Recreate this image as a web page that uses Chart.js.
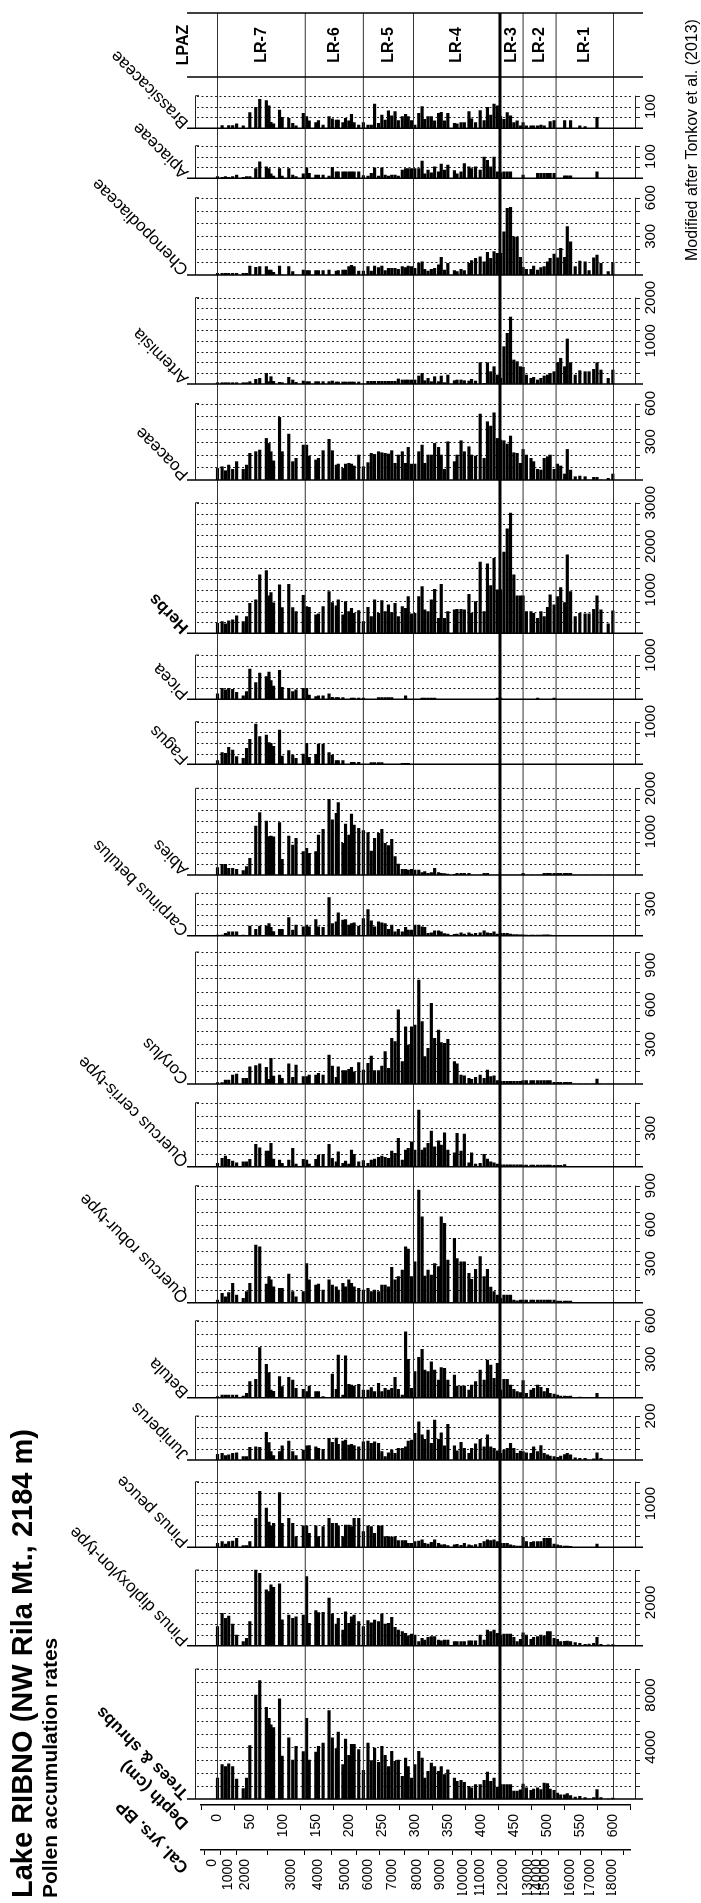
<!DOCTYPE html>
<html>
<head>
<meta charset="utf-8">
<title>Lake RIBNO pollen accumulation rates</title>
<script src="https://cdn.jsdelivr.net/npm/chart.js@4.4.0/dist/chart.umd.min.js"></script>
<style>
  body { margin: 0; background: #fff; }
  canvas { display: block; }
</style>
</head>
<body>
<canvas id="pollenChart" width="701" height="1903"></canvas>
<script>
// sample depths (cm)
const depths = [
  0, 7, 12, 17, 23, 29, 39, 44, 49, 58,
  64, 74, 78, 81, 85, 94, 98, 108, 114, 119,
  130, 135, 139, 149, 153, 160, 169, 174, 180, 183,
  190, 194, 199, 203, 207, 214, 221, 228, 233, 238,
  244, 249, 254, 259, 264, 269, 274, 280, 285, 289,
  294, 299, 305, 310, 314, 319, 324, 329, 335, 339,
  344, 349, 359, 363, 369, 374, 381, 385, 391, 398,
  404, 409, 414, 419, 424, 429, 434, 439, 444, 449,
  454, 459, 463, 468, 475, 479, 485, 490, 495, 500,
  504, 510, 515, 520, 526, 530, 535, 542, 549, 557,
  563, 570, 575, 581, 592, 599
];

// pollen accumulation rates, one array per taxon, same order as depths
const brassicaceae = [
  0, 12, 0, 12, 12, 20, 11, 0, 72, 97,
  133, 127, 103, 28, 20, 84, 51, 46, 23, 11,
  69, 54, 34, 26, 35, 15, 54, 43, 38, 38,
  26, 46, 34, 64, 26, 15, 26, 15, 15, 112,
  23, 61, 38, 80, 57, 77, 35, 54, 64, 54,
  35, 15, 69, 100, 41, 54, 54, 34, 69, 74,
  34, 69, 23, 20, 26, 26, 77, 43, 26, 81,
  35, 97, 61, 112, 103, 54, 41, 72, 57, 26,
  34, 11, 26, 11, 11, 11, 11, 15, 11, 0,
  31, 35, 0, 0, 35, 0, 35, 0, 11, 8,
  0, 0, 51, 0, 0, 0
];
const apiaceae = [
  8, 5, 8, 5, 8, 15, 5, 8, 8, 45,
  76, 53, 45, 20, 10, 45, 10, 45, 15, 8,
  20, 48, 23, 15, 15, 15, 10, 50, 30, 30,
  30, 30, 30, 30, 30, 30, 12, 10, 23, 48,
  10, 48, 15, 10, 15, 15, 10, 38, 45, 45,
  45, 45, 45, 79, 20, 38, 25, 53, 30, 65,
  38, 61, 35, 20, 30, 68, 53, 45, 53, 38,
  98, 83, 53, 98, 30, 26, 30, 30, 30, 0,
  0, 0, 15, 0, 0, 0, 23, 23, 23, 23,
  23, 23, 0, 0, 11, 11, 11, 0, 0, 0,
  0, 0, 30, 0, 0, 0
];
const chenopodiaceae = [
  13, 13, 13, 13, 13, 13, 13, 13, 70, 59,
  65, 65, 39, 39, 20, 70, 0, 65, 26, 0,
  39, 34, 34, 34, 34, 34, 39, 0, 31, 34,
  39, 39, 65, 75, 65, 30, 30, 65, 30, 70,
  57, 70, 34, 52, 52, 52, 44, 65, 57, 70,
  65, 52, 90, 103, 44, 30, 44, 52, 78, 137,
  39, 90, 34, 26, 44, 34, 90, 111, 129, 142,
  103, 176, 129, 181, 168, 168, 336, 517, 525, 297,
  292, 137, 59, 44, 44, 70, 39, 57, 65, 103,
  129, 163, 134, 207, 137, 375, 258, 65, 109, 103,
  34, 134, 155, 90, 26, 96
];
const artemisia = [
  30, 30, 30, 30, 30, 30, 30, 30, 54, 108,
  131, 247, 54, 170, 60, 39, 31, 154, 93, 39,
  69, 54, 54, 54, 54, 54, 54, 69, 46, 46,
  46, 46, 46, 46, 46, 46, 0, 62, 62, 62,
  62, 62, 62, 62, 62, 62, 116, 93, 93, 93,
  93, 93, 185, 247, 77, 131, 54, 170, 54, 185,
  31, 208, 77, 93, 93, 77, 69, 108, 69, 494,
  15, 494, 285, 401, 208, 131, 864, 1173, 1550, 556,
  517, 401, 386, 208, 131, 154, 93, 131, 185, 208,
  247, 285, 494, 594, 401, 1042, 494, 208, 309, 285,
  285, 340, 494, 324, 131, 324
];
const poaceae = [
  91, 104, 73, 117, 84, 144, 84, 117, 209, 222,
  235, 326, 287, 222, 150, 491, 222, 360, 144, 170,
  274, 274, 188, 157, 170, 230, 319, 230, 117, 125,
  91, 125, 131, 125, 110, 196, 104, 136, 209, 201,
  222, 214, 209, 204, 230, 131, 196, 222, 131, 256,
  125, 125, 222, 274, 131, 196, 196, 287, 256, 196,
  84, 300, 144, 196, 308, 222, 261, 196, 188, 517,
  170, 457, 423, 527, 326, 313, 308, 282, 345, 214,
  209, 131, 240, 196, 170, 144, 84, 78, 170, 183,
  196, 84, 125, 110, 47, 240, 78, 26, 31, 26,
  0, 21, 21, 0, 13, 47
];
const herbs = [
  230, 268, 215, 284, 307, 399, 268, 383, 690, 767,
  1342, 1442, 859, 935, 700, 1112, 590, 1127, 590, 498,
  874, 613, 598, 422, 445, 613, 958, 705, 629, 767,
  422, 728, 498, 575, 460, 521, 268, 598, 383, 767,
  460, 751, 498, 652, 475, 690, 383, 613, 575, 844,
  445, 460, 844, 1074, 537, 498, 767, 1012, 345, 1127,
  345, 498, 537, 552, 552, 537, 897, 460, 728, 1634,
  498, 1595, 1097, 1725, 997, 997, 1864, 2400, 2761, 1342,
  859, 859, 859, 498, 498, 460, 345, 498, 383, 598,
  882, 652, 844, 1051, 705, 1802, 958, 383, 460, 445,
  445, 552, 859, 537, 215, 514
];
const picea = [
  121, 250, 212, 250, 227, 159, 76, 174, 682, 379,
  591, 515, 614, 424, 300, 652, 273, 250, 174, 212,
  250, 250, 98, 61, 76, 76, 121, 45, 38, 38,
  38, 0, 0, 30, 30, 30, 30, 0, 0, 0,
  38, 38, 38, 38, 38, 0, 0, 0, 76, 0,
  0, 0, 0, 30, 30, 30, 30, 30, 0, 0,
  0, 0, 0, 0, 0, 0, 0, 0, 0, 0,
  0, 0, 0, 0, 30, 30, 0, 0, 0, 0,
  0, 0, 0, 0, 0, 0, 30, 0, 0, 0,
  0, 30, 0, 0, 0, 0, 0, 0, 0, 0,
  0, 0, 0, 0, 0, 0
];
const fagus = [
  86, 273, 258, 398, 336, 180, 140, 375, 585, 945,
  648, 688, 508, 492, 420, 805, 195, 320, 219, 140,
  242, 492, 164, 234, 477, 477, 273, 219, 86, 86,
  86, 0, 0, 47, 47, 47, 0, 0, 40, 40,
  40, 40, 0, 0, 0, 0, 0, 23, 23, 23,
  0, 0, 0, 0, 0, 0, 0, 0, 0, 0,
  0, 0, 0, 0, 0, 0, 0, 0, 0, 0,
  0, 0, 0, 0, 0, 0, 0, 0, 0, 0,
  0, 0, 0, 0, 0, 0, 0, 0, 0, 0,
  0, 0, 0, 0, 0, 0, 0, 0, 0, 0,
  0, 0, 0, 0, 0, 0
];
const abies = [
  170, 246, 246, 154, 154, 130, 100, 192, 385, 1130,
  1440, 1246, 885, 900, 880, 1208, 362, 900, 692, 846,
  538, 615, 500, 538, 923, 1054, 1746, 1270, 1423, 1670,
  730, 1177, 923, 1408, 1154, 1077, 1023, 977, 554, 846,
  962, 1054, 730, 677, 823, 423, 254, 130, 130, 115,
  130, 115, 115, 54, 77, 38, 54, 154, 54, 38,
  30, 23, 15, 38, 38, 38, 38, 0, 0, 0,
  38, 38, 0, 0, 0, 0, 0, 0, 0, 0,
  0, 0, 38, 0, 0, 0, 0, 0, 38, 38,
  38, 38, 38, 38, 38, 38, 38, 0, 0, 0,
  0, 0, 0, 0, 0, 0
];
const carpinus = [
  6, 6, 22, 37, 37, 37, 6, 0, 90, 59,
  90, 90, 115, 78, 40, 59, 59, 170, 53, 100,
  84, 100, 84, 153, 84, 78, 360, 115, 131, 215,
  147, 153, 100, 115, 122, 90, 162, 247, 140, 84,
  131, 122, 115, 59, 100, 37, 59, 37, 78, 53,
  53, 100, 100, 84, 78, 22, 28, 47, 47, 37,
  20, 15, 12, 15, 28, 16, 28, 15, 22, 28,
  47, 28, 22, 37, 16, 22, 22, 22, 15, 10,
  10, 8, 9, 5, 5, 5, 5, 5, 9, 9,
  5, 0, 0, 0, 0, 0, 0, 0, 0, 0,
  0, 0, 0, 0, 0, 0
];
const corylus = [
  10, 10, 30, 30, 68, 76, 43, 43, 131, 139,
  152, 126, 35, 194, 60, 68, 43, 152, 51, 144,
  56, 56, 68, 68, 81, 68, 220, 136, 51, 131,
  101, 101, 111, 126, 93, 162, 106, 157, 212, 101,
  101, 136, 245, 119, 346, 321, 561, 169, 434, 295,
  434, 447, 788, 472, 207, 270, 611, 346, 409, 313,
  308, 338, 169, 152, 68, 61, 43, 35, 51, 68,
  43, 106, 56, 61, 25, 20, 20, 20, 20, 20,
  20, 20, 25, 25, 25, 25, 25, 25, 25, 25,
  25, 13, 13, 13, 13, 13, 13, 0, 0, 0,
  0, 0, 38, 0, 0, 0
];
const quercusCerris = [
  26, 65, 83, 57, 44, 31, 39, 39, 57, 174,
  148, 122, 122, 182, 60, 52, 26, 52, 143, 20,
  57, 52, 21, 57, 91, 96, 174, 65, 39, 117,
  26, 44, 21, 130, 96, 39, 47, 26, 52, 60,
  73, 83, 73, 65, 122, 104, 221, 52, 130, 143,
  195, 130, 442, 130, 148, 182, 278, 156, 203, 169,
  265, 130, 109, 260, 122, 255, 31, 109, 21, 26,
  96, 60, 39, 30, 21, 15, 15, 15, 15, 15,
  15, 15, 13, 13, 13, 13, 13, 13, 13, 13,
  13, 10, 10, 10, 16, 0, 0, 0, 0, 0,
  0, 0, 0, 0, 0, 0
];
const quercusRobur = [
  20, 72, 46, 77, 149, 59, 33, 85, 149, 444,
  430, 144, 200, 175, 123, 110, 110, 220, 85, 46,
  85, 300, 175, 136, 144, 97, 175, 136, 123, 97,
  149, 123, 175, 149, 123, 110, 97, 110, 85, 97,
  85, 136, 136, 123, 272, 175, 200, 250, 430, 413,
  200, 315, 867, 660, 205, 250, 212, 300, 277, 660,
  610, 328, 495, 340, 315, 315, 225, 180, 256, 354,
  200, 256, 120, 85, 59, 33, 59, 59, 59, 20,
  15, 20, 20, 20, 20, 20, 20, 20, 20, 20,
  20, 20, 13, 13, 13, 13, 13, 0, 0, 0,
  0, 0, 0, 0, 0, 0
];
const betula = [
  8, 20, 20, 20, 20, 20, 13, 34, 125, 143,
  390, 260, 195, 60, 50, 164, 86, 158, 138, 73,
  65, 47, 91, 47, 47, 8, 0, 184, 65, 332,
  20, 327, 104, 99, 91, 104, 60, 60, 78, 47,
  112, 47, 73, 60, 73, 158, 65, 20, 514, 299,
  73, 203, 314, 377, 216, 203, 280, 216, 138, 234,
  229, 138, 177, 91, 91, 91, 60, 99, 125, 216,
  138, 294, 255, 151, 268, 60, 143, 143, 99, 65,
  47, 40, 133, 34, 60, 73, 99, 81, 47, 73,
  34, 29, 20, 13, 13, 10, 13, 0, 5, 0,
  0, 0, 34, 0, 0, 0
];
const juniperus = [
  26, 30, 20, 23, 30, 33, 15, 15, 58, 60,
  58, 126, 79, 38, 20, 38, 64, 86, 38, 20,
  45, 64, 65, 60, 53, 48, 98, 80, 100, 71,
  86, 91, 68, 71, 65, 60, 83, 86, 76, 83,
  76, 38, 15, 33, 45, 30, 53, 53, 60, 86,
  91, 121, 174, 114, 94, 136, 76, 182, 94, 124,
  64, 162, 64, 42, 80, 53, 30, 53, 73, 94,
  60, 114, 60, 53, 42, 30, 45, 53, 76, 53,
  30, 40, 38, 33, 30, 60, 38, 65, 30, 23,
  18, 15, 12, 18, 25, 30, 23, 10, 8, 8,
  0, 5, 33, 8, 0, 0
];
const pinusPeuce = [
  90, 130, 75, 130, 145, 205, 40, 40, 130, 665,
  1280, 895, 575, 490, 550, 1250, 550, 665, 550, 245,
  490, 490, 320, 490, 245, 475, 665, 550, 550, 490,
  245, 510, 510, 475, 665, 665, 360, 490, 475, 320,
  490, 490, 245, 245, 230, 245, 155, 155, 155, 90,
  90, 130, 145, 170, 90, 75, 115, 170, 90, 55,
  60, 40, 55, 70, 45, 90, 55, 40, 60, 90,
  130, 170, 155, 170, 130, 90, 90, 90, 55, 40,
  30, 30, 230, 130, 115, 130, 130, 130, 205, 205,
  205, 75, 55, 40, 30, 30, 20, 0, 0, 0,
  0, 0, 75, 0, 0, 0
];
const pinusDiploxylon = [
  880, 1500, 1270, 1370, 1000, 490, 185, 340, 1110, 3500,
  3350, 2580, 2500, 2810, 2700, 2860, 1200, 1420, 1270, 1340,
  1420, 3190, 1030, 1620, 1530, 1540, 2200, 1470, 1000, 1270,
  725, 1570, 1030, 1340, 1420, 1110, 880, 1160, 1060, 1190,
  1110, 1470, 1000, 1030, 1310, 850, 725, 650, 570, 460,
  540, 490, 185, 340, 260, 385, 420, 420, 260, 230,
  260, 260, 185, 185, 185, 185, 230, 230, 230, 490,
  260, 725, 650, 725, 570, 490, 540, 540, 540, 385,
  185, 300, 600, 490, 290, 385, 420, 490, 450, 650,
  650, 340, 290, 185, 200, 215, 185, 150, 110, 60,
  80, 110, 385, 60, 40, 50
];
const treesShrubs = [
  1600, 2640, 2500, 2700, 2500, 1540, 800, 1600, 4100, 8000,
  9100, 7050, 6200, 5700, 5500, 7700, 3300, 4700, 3000, 4050,
  3650, 6200, 3000, 3600, 4050, 4300, 6800, 4700, 3870, 5150,
  2640, 4600, 3360, 4200, 4200, 3800, 2200, 4300, 2950, 3920,
  2820, 4050, 3360, 2500, 3670, 2900, 3000, 1740, 3150, 2500,
  1600, 2640, 3670, 3150, 1600, 2130, 2770, 2500, 2130, 2500,
  1870, 2250, 1600, 1360, 1430, 1280, 970, 850, 1100, 1100,
  1430, 2070, 1360, 1600, 920, 1100, 1100, 1100, 1100, 600,
  600, 700, 1150, 850, 670, 770, 850, 720, 1230, 1180,
  770, 670, 460, 330, 330, 410, 260, 150, 200, 100,
  0, 100, 720, 100, 0, 80
];

// panels from top to bottom
const taxa = ['Brassicaceae', 'Apiaceae', 'Chenopodiaceae', 'Artemisia', 'Poaceae', 'Herbs',
  'Picea', 'Fagus', 'Abies', 'Carpinus betulus', 'Corylus', 'Quercus cerris-type',
  'Quercus robur-type', 'Betula', 'Juniperus', 'Pinus peuce', 'Pinus diploxylon-type', 'Trees & shrubs'];
const series = [brassicaceae, apiaceae, chenopodiaceae, artemisia, poaceae, herbs,
  picea, fagus, abies, carpinus, corylus, quercusCerris,
  quercusRobur, betula, juniperus, pinusPeuce, pinusDiploxylon, treesShrubs];
const boldTaxa = ['Herbs', 'Trees & shrubs'];
const panelMax = [150, 150, 600, 2000, 600, 3000, 1000, 1000, 2000, 400, 1000, 500, 900, 600, 200, 1500, 3500, 10000];
const panelStep = [50, 50, 100, 250, 100, 250, 250, 250, 250, 100, 100, 100, 100, 100, 50, 250, 500, 1000];
const panelLabels = [[100], [100], [300, 600], [1000, 2000], [300, 600], [1000, 2000, 3000],
  [1000], [1000], [1000, 2000], [300], [300, 600, 900], [300],
  [300, 600, 900], [300, 600], [200], [1000], [2000], [4000, 8000]];

// pollen zones
const zoneBounds = [0, 133, 221, 297, 428, 463, 513, 600];
const zoneNames = ['LR-7', 'LR-6', 'LR-5', 'LR-4', 'LR-3', 'LR-2', 'LR-1'];

// calibrated age axis
const calAges = [0, 1000, 2000, 3000, 4000, 5000, 6000, 7000, 8000, 9000, 10000,
  11000, 12000, 13000, 14000, 15000, 16000, 17000, 18000];
const calDepths = [0, 23, 48, 116, 156, 196, 230, 265, 302, 337, 371,
  395, 430, 466, 479, 492, 529, 558, 591];

// layout (pixels)
const FONT = '"Liberation Sans", Arial, sans-serif';
const LPAZ_TOP = 13, LPAZ_BOTTOM = 77, AXIS_Y = 1805;
const bases = [128.3, 178.3, 275, 384, 480, 633.3, 699.3, 764.3, 875, 935.7,
  1084, 1166.7, 1302.7, 1397.7, 1460, 1547.3, 1645.7, 1799];
const tops = [95.7, 145.7, 197.7, 297.6, 403.5, 502.7, 655, 721.7, 788.3, 893.3,
  952, 1102.7, 1185.7, 1320.7, 1416, 1481.7, 1570, 1669];
const LINE_L = 187, LINE_R = 643;

function txt(ctx, s, x, y, ang, font, align, base) {
  ctx.save();
  ctx.translate(x, y);
  ctx.rotate(ang);
  ctx.font = font;
  ctx.textAlign = align || 'left';
  ctx.textBaseline = base || 'middle';
  ctx.fillStyle = '#000';
  ctx.fillText(s, 0, 0);
  ctx.restore();
}

const scales = {
  x: {
    type: 'linear', position: 'bottom', min: 0, max: 600,
    ticks: { stepSize: 50, autoSkip: false, minRotation: 90, maxRotation: 90, padding: 4,
      color: '#000', font: { family: FONT, size: 14 } },
    grid: { drawOnChartArea: false, drawTicks: true, tickLength: 5, color: '#000' },
    border: { color: '#000', width: 1.5 },
    afterFit: s => { s.height = 45; }
  },
  x2: {
    type: 'linear', position: 'bottom', min: 0, max: 600,
    afterBuildTicks: s => { s.ticks = calDepths.map(v => ({ value: v })); },
    ticks: { autoSkip: false, minRotation: 90, maxRotation: 90, padding: 4,
      color: '#000', font: { family: FONT, size: 14 },
      callback: (v, i) => String(calAges[i]) },
    grid: { drawOnChartArea: false, drawTicks: true, tickLength: 5, color: '#000' },
    border: { color: '#000', width: 1.5 },
    afterFit: s => { s.height = 45; }
  }
};
taxa.forEach((name, k) => {
  const regTop = k === 0 ? LPAZ_BOTTOM : bases[k - 1];
  const regBot = k === taxa.length - 1 ? AXIS_Y : bases[k];
  const ppu = (bases[k] - tops[k]) / panelMax[k];
  scales['y' + k] = {
    type: 'linear', display: false, position: 'left',
    stack: 'panels', stackWeight: regBot - regTop, weight: taxa.length - k,
    min: -(regBot - bases[k]) / ppu, max: (bases[k] - regTop) / ppu
  };
});

const decor = {
  id: 'decor',
  beforeDraw(chart) {
    const ctx = chart.ctx;
    ctx.save();
    ctx.fillStyle = '#fff';
    ctx.fillRect(0, 0, chart.width, chart.height);
    ctx.restore();
  },
  beforeDatasetsDraw(chart) {
    const ctx = chart.ctx;
    ctx.save();
    ctx.strokeStyle = '#222';
    ctx.lineWidth = 1;
    taxa.forEach((name, k) => {
      const sc = chart.scales['y' + k];
      const y0 = sc.getPixelForValue(0);
      const yTop = sc.getPixelForValue(panelMax[k]);
      ctx.setLineDash([2, 2.5]);
      for (let v = panelStep[k]; v <= panelMax[k] + 1e-6; v += panelStep[k]) {
        const y = Math.round(sc.getPixelForValue(v)) + 0.5;
        ctx.beginPath(); ctx.moveTo(197, y); ctx.lineTo(633, y); ctx.stroke();
      }
      ctx.setLineDash([]);
      // left bracket
      ctx.beginPath();
      ctx.moveTo(199, yTop); ctx.lineTo(195.5, yTop); ctx.lineTo(195.5, y0);
      ctx.stroke();
      // right bracket with ticks
      ctx.beginPath();
      ctx.moveTo(635.5, yTop); ctx.lineTo(635.5, y0);
      for (let v = panelStep[k]; v <= panelMax[k] + 1e-6; v += panelStep[k]) {
        const y = Math.round(sc.getPixelForValue(v)) + 0.5;
        ctx.moveTo(635.5, y); ctx.lineTo(640, y);
      }
      ctx.stroke();
    });
    ctx.restore();
  },
  afterDatasetsDraw(chart) {
    const ctx = chart.ctx;
    const xs = chart.scales.x;
    const lastBase = chart.scales['y' + (taxa.length - 1)].getPixelForValue(0);
    ctx.save();
    // zone boundaries
    zoneBounds.forEach(d => {
      const x = xs.getPixelForValue(d);
      ctx.beginPath();
      ctx.lineWidth = d === 428 ? 3 : 1;
      ctx.strokeStyle = d === 428 ? '#000' : '#333';
      ctx.moveTo(x, LPAZ_TOP); ctx.lineTo(x, lastBase);
      ctx.stroke();
    });
    // baselines and LPAZ box
    ctx.strokeStyle = '#000';
    ctx.lineWidth = 1.5;
    const hLines = [LPAZ_TOP, chart.chartArea.top];
    taxa.forEach((n, k) => hLines.push(chart.scales['y' + k].getPixelForValue(0)));
    hLines.forEach(y => {
      ctx.beginPath(); ctx.moveTo(LINE_L, y); ctx.lineTo(LINE_R, y); ctx.stroke();
    });
    // LPAZ labels
    const midY = (LPAZ_TOP + chart.chartArea.top) / 2;
    txt(ctx, 'LPAZ', 184, midY, -Math.PI / 2, 'bold 16px ' + FONT, 'center');
    zoneNames.forEach((z, i) => {
      const x = xs.getPixelForValue((zoneBounds[i] + zoneBounds[i + 1]) / 2);
      txt(ctx, z, x, midY, -Math.PI / 2, 'bold 16px ' + FONT, 'center');
    });
    // taxa names and scale labels
    taxa.forEach((name, k) => {
      const sc = chart.scales['y' + k];
      const y0 = sc.getPixelForValue(0);
      const f = (boldTaxa.includes(name) ? 'bold ' : '') + '17px ' + FONT;
      txt(ctx, name, 186, y0 - 3, -3 * Math.PI / 4, f, 'left');
      panelLabels[k].forEach(v => {
        txt(ctx, String(v), 651, sc.getPixelForValue(v), -Math.PI / 2, '15px ' + FONT, 'center');
      });
    });
    // axis titles
    txt(ctx, 'Depth (cm)', 186, 1826, -3 * Math.PI / 4, 'bold 17px ' + FONT, 'left');
    txt(ctx, 'Cal. yrs. BP', 186, 1870, -3 * Math.PI / 4, 'bold 17px ' + FONT, 'left');
    // titles
    txt(ctx, 'Lake RIBNO (NW Rila Mt., 2184 m)', 24, 1898, -Math.PI / 2, 'bold 29px ' + FONT, 'left');
    txt(ctx, 'Pollen accumulation rates', 51, 1898, -Math.PI / 2, 'bold 21px ' + FONT, 'left');
    txt(ctx, 'Modified after Tonkov et al. (2013)', 693, 140, -Math.PI / 2, '16px ' + FONT, 'center');
    ctx.restore();
  }
};

new Chart(document.getElementById('pollenChart'), {
  type: 'bar',
  data: {
    datasets: series.map((vals, k) => ({
      label: taxa[k],
      data: depths.map((d, i) => ({ x: d, y: vals[i] })),
      xAxisID: 'x',
      yAxisID: 'y' + k,
      backgroundColor: '#000',
      borderWidth: 0,
      barThickness: 2.5,
      grouped: false
    }))
  },
  options: {
    responsive: false,
    maintainAspectRatio: false,
    devicePixelRatio: 1,
    animation: false,
    layout: { padding: { top: LPAZ_BOTTOM, left: 201, right: 71, bottom: 8 } },
    plugins: { legend: { display: false }, tooltip: { enabled: false } },
    scales: scales
  },
  plugins: [decor]
});
</script>
</body>
</html>
